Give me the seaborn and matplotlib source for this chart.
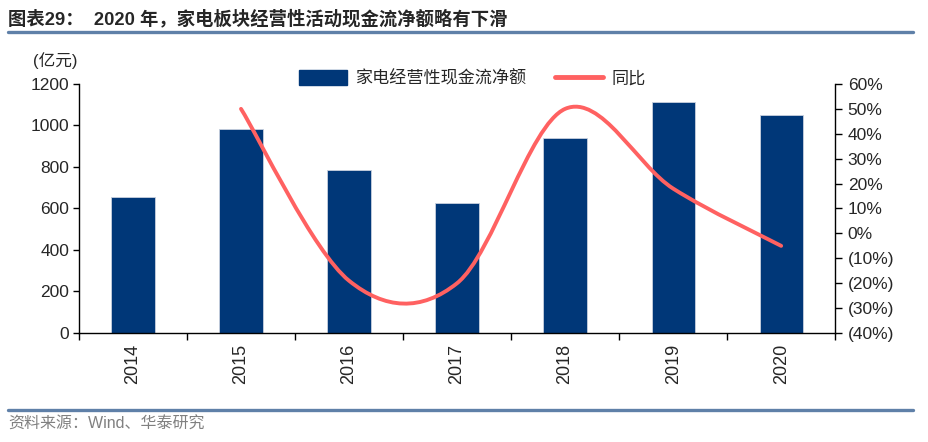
import numpy as np
import pandas as pd
import seaborn as sns
import matplotlib
matplotlib.use("Agg")
import matplotlib.pyplot as plt
from matplotlib.path import Path
from matplotlib.patches import PathPatch, Patch
from matplotlib.lines import Line2D
from matplotlib.ticker import FuncFormatter, FixedLocator

years = ["2014", "2015", "2016", "2017", "2018", "2019", "2020"]
cash_flow = [655, 983, 786, 627, 940, 1113, 1050]
yoy_years = ["2015", "2016", "2017", "2018", "2019", "2020"]
yoy = [50, -19, -20, 50, 18, -5]

BAR_COLOR = "#003778"
LINE_COLOR = "#FF6161"
RULE_COLOR = "#5f80a8"

sns.set_theme(style="white")
plt.rcParams["font.family"] = ["Liberation Sans", "Noto Sans CJK SC", "DejaVu Sans"]

fig = plt.figure(figsize=(9.29, 4.42), dpi=100)
ax = fig.add_axes([0.085, 0.2466, 0.814, 0.5634])

df = pd.DataFrame({"year": years, "value": cash_flow})
sns.barplot(data=df, x="year", y="value", ax=ax, color=BAR_COLOR, width=0.4,
            saturation=1, edgecolor="#c8d0de", linewidth=0.6)

ax.set_ylim(0, 1200)
ax.set_yticks(range(0, 1201, 200))
ax.set_xlim(-0.5, 6.5)
ax.set_xlabel("")
ax.set_ylabel("")
ax.tick_params(axis="y", labelsize=12.5, length=4, width=1, color="black", direction="out", pad=3, left=True)
ax.tick_params(axis="x", which="major", labelsize=13, length=0, pad=8, rotation=90)
ax.xaxis.set_minor_locator(FixedLocator(np.arange(-0.5, 7, 1)))
ax.tick_params(axis="x", which="minor", length=5, width=1, color="black", direction="out", bottom=True)
for s in ["left", "bottom"]:
    ax.spines[s].set_color("black")
    ax.spines[s].set_linewidth(1)
ax.spines["top"].set_visible(False)
ax.spines["right"].set_visible(False)

ax2 = ax.twinx()
ax2.set_ylim(-40, 60)
ax2.set_yticks(range(-40, 61, 10))
ax2.yaxis.set_major_formatter(FuncFormatter(lambda v, p: f"({abs(v):.0f}%)" if v < 0 else f"{v:.0f}%"))
ax2.tick_params(axis="y", labelsize=12.5, length=5, width=1, color="black", direction="out", pad=4, right=True)
ax2.spines["right"].set_color("black")
ax2.spines["right"].set_linewidth(1)
for s in ["top", "left", "bottom"]:
    ax2.spines[s].set_visible(False)
ax2.grid(False)

# smoothed line like Excel's smoothed series (cubic Bezier through the points)
xs = [years.index(y) for y in yoy_years]
pts = list(zip(xs, yoy))
verts = [pts[0]]
codes = [Path.MOVETO]
for i in range(len(pts) - 1):
    p0 = pts[i - 1] if i > 0 else pts[i]
    p1, p2 = pts[i], pts[i + 1]
    p3 = pts[i + 2] if i + 2 < len(pts) else pts[i + 1]
    c1 = (p1[0] + (p2[0] - p0[0]) / 6, p1[1] + (p2[1] - p0[1]) / 6)
    c2 = (p2[0] - (p3[0] - p1[0]) / 6, p2[1] - (p3[1] - p1[1]) / 6)
    verts += [c1, c2, p2]
    codes += [Path.CURVE4] * 3
ax2.add_patch(PathPatch(Path(verts, codes), facecolor="none", edgecolor=LINE_COLOR,
                        lw=2.8, capstyle="round", joinstyle="round", zorder=5))

handles = [Patch(facecolor=BAR_COLOR, edgecolor=BAR_COLOR),
           Line2D([0], [0], color=LINE_COLOR, lw=3.5, solid_capstyle="round")]
fig.legend(handles, ["家电经营性现金流净额", "同比"], loc="center left",
           bbox_to_anchor=(0.305, 0.823), ncol=2, frameon=False, fontsize=12.3,
           handlelength=2.8, handleheight=0.9, columnspacing=1.7, handletextpad=0.5)

fig.text(0.059, 0.862, "(亿元)", fontsize=12, ha="center", va="center")

fig.text(0.0086, 0.958, "图表29：  2020 年，家电板块经营性活动现金流净额略有下滑",
         fontsize=13.2, fontweight="bold", ha="left", va="center")
fig.add_artist(Line2D([0.0086, 0.983], [0.928, 0.928], transform=fig.transFigure,
                      color=RULE_COLOR, lw=2.4))
fig.add_artist(Line2D([0.0086, 0.983], [0.072, 0.072], transform=fig.transFigure,
                      color=RULE_COLOR, lw=2.4))
fig.text(0.0086, 0.041, "资料来源：Wind、华泰研究", fontsize=11.5, color="#808080",
         ha="left", va="center")

fig.savefig("out.png", dpi=100)
